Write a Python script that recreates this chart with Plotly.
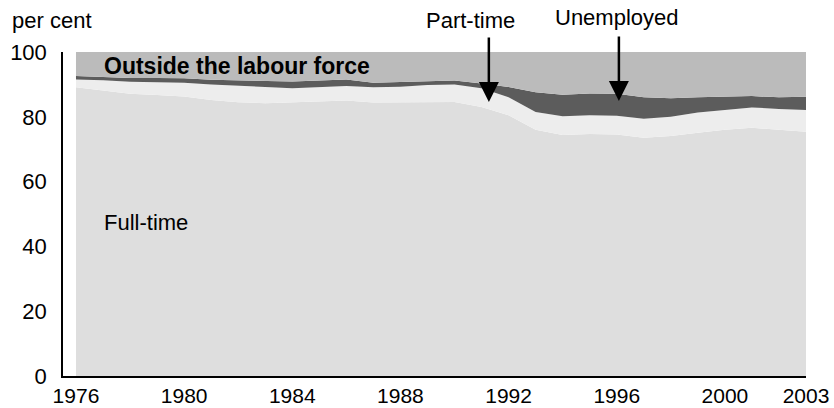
import plotly.graph_objects as go

years = list(range(1976, 2004))
full_time = [89.1, 88.2, 87.1, 86.7, 86.3, 85.2, 84.5, 84.2, 84.4, 84.6,
             85.0, 84.4, 84.5, 84.7, 84.6, 83.0, 80.5, 76.0, 74.4, 74.7,
             74.5, 73.5, 74.1, 75.1, 76.0, 76.6, 75.9, 75.4]
ft_plus_pt = [91.5, 91.3, 90.8, 90.6, 90.5, 90.0, 89.7, 89.2, 88.8, 89.1,
              89.5, 89.1, 89.3, 89.8, 90.0, 88.8, 86.0, 81.5, 80.2, 80.5,
              80.3, 79.4, 80.0, 81.3, 82.2, 82.9, 82.4, 82.1]
labour_force = [92.6, 92.3, 92.0, 92.0, 91.9, 91.4, 91.2, 91.2, 90.9, 91.2,
                91.5, 90.5, 90.8, 91.1, 91.2, 90.3, 89.2, 87.6, 86.8, 87.2,
                87.1, 86.0, 85.7, 86.0, 86.2, 86.4, 86.0, 86.2]

part_time = [round(b - a, 2) for a, b in zip(full_time, ft_plus_pt)]
unemployed = [round(c - b, 2) for b, c in zip(ft_plus_pt, labour_force)]
outside = [round(100 - c, 2) for c in labour_force]

x_ticks = [1976, 1980, 1984, 1988, 1992, 1996, 2000, 2003]
y_ticks = [0, 20, 40, 60, 80, 100]

FONT = "Liberation Sans, Arial, Helvetica, sans-serif"
FS = 22

fig = go.Figure()
series = [
    ("Full-time", full_time, "#dedede"),
    ("Part-time", part_time, "#ededed"),
    ("Unemployed", unemployed, "#5c5c5c"),
    ("Outside the labour force", outside, "#bbbbbb"),
]
for name, vals, col in series:
    fig.add_trace(go.Scatter(
        x=years, y=vals, name=name, stackgroup="one", mode="lines",
        line=dict(width=0, color=col), fillcolor=col, hoverinfo="skip",
    ))

fig.update_layout(
    width=834, height=408,
    margin=dict(l=63, r=28, t=52, b=32, autoexpand=False),
    paper_bgcolor="white", plot_bgcolor="white",
    showlegend=False,
    font=dict(family=FONT, size=FS, color="#000000"),
    xaxis=dict(
        range=[1975.52, 2003], tickvals=x_ticks, ticktext=[str(v) for v in x_ticks],
        showgrid=False, zeroline=False, showline=True, linecolor="#000000", linewidth=1.5,
        ticks="", tickfont=dict(size=21), ticklabelstandoff=0, automargin=False,
    ),
    yaxis=dict(
        range=[0, 100], tickvals=y_ticks, showgrid=False, zeroline=False,
        showline=True, linecolor="#000000", linewidth=1.5, ticks="",
        tickfont=dict(size=FS), ticklabelstandoff=10, automargin=False,
    ),
)

ann = []
ann.append(dict(xref="paper", yref="paper", x=-0.0713, y=1.0, yshift=32,
                xanchor="left", yanchor="middle", text="per cent", showarrow=False,
                font=dict(size=FS)))
ann.append(dict(xref="x", yref="y", x=1976.95, y=95.8, xanchor="left", yanchor="middle",
                text="<b>Outside the labour force</b>", showarrow=False, font=dict(size=23)))
ann.append(dict(xref="x", yref="y", x=1976.98, y=47.3, xanchor="left", yanchor="middle",
                text="Full-time", showarrow=False, font=dict(size=FS)))
ann.append(dict(xref="x", yref="paper", x=1990.58, y=1.0, yshift=32, xanchor="center",
                yanchor="middle", text="Part-time", showarrow=False, font=dict(size=FS)))
ann.append(dict(xref="x", yref="paper", x=1996.0, y=1.0, yshift=35, xanchor="center",
                yanchor="middle", text="Unemployed", showarrow=False, font=dict(size=FS)))
for xa, ya in [(1991.27, 84.6), (1996.08, 84.9)]:
    ann.append(dict(xref="x", yref="y", x=xa, y=ya, ax=0, ay=-66, text="",
                    showarrow=True, arrowhead=2, arrowsize=1.6, arrowwidth=2.5,
                    arrowcolor="#000000"))
fig.update_layout(annotations=ann)

# remove the page's default 8px body margin so the 834x408 figure fills the window
fig.write_html("out.html", config={"displayModeBar": False},
               post_script="document.body.style.margin='0px';")
